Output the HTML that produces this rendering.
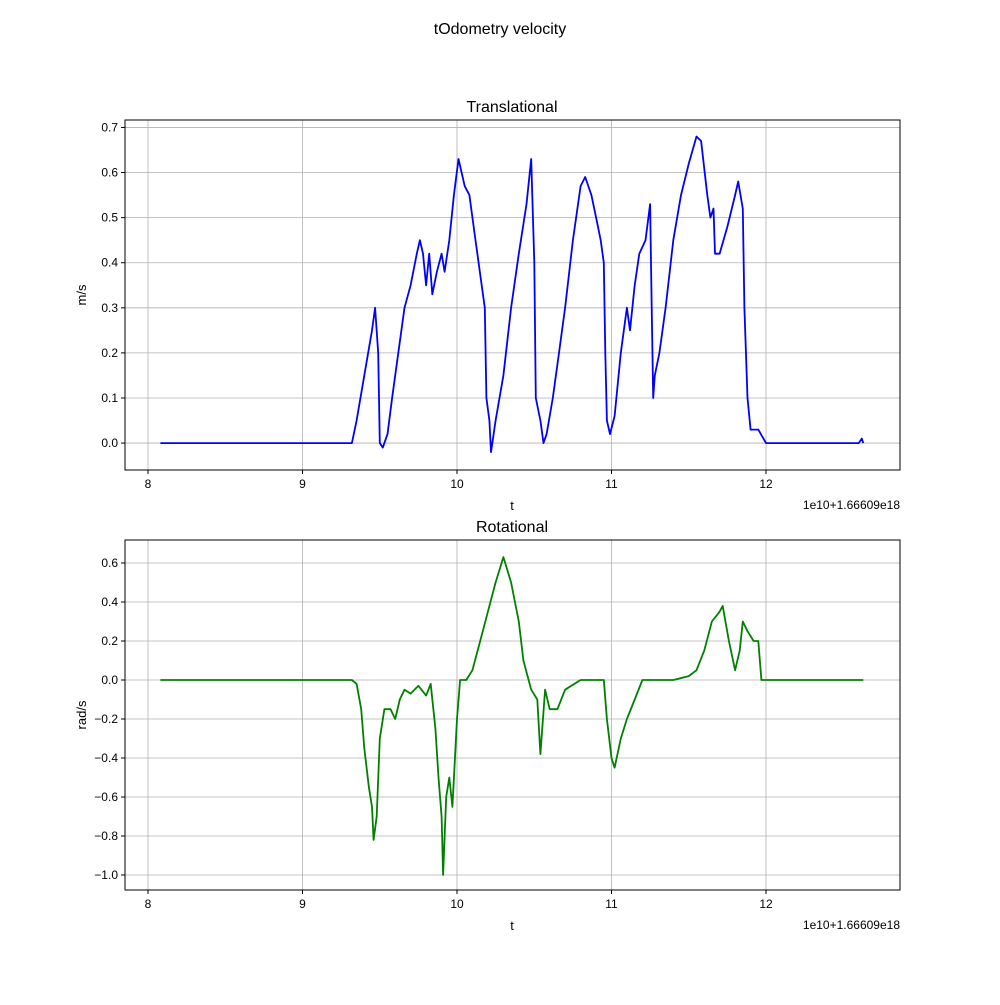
<!DOCTYPE html>
<html><head><meta charset="utf-8"><style>
body{margin:0;background:#fff}
svg text{font-family:"Liberation Sans","DejaVu Sans",sans-serif;fill:#000}
</style></head><body>
<svg id="chart" width="1000" height="1000">
<rect width="1000" height="1000" fill="#fff"/>
<text x="500" y="34" font-size="16" text-anchor="middle">tOdometry velocity</text>
<g id="top"></g><g id="bot"></g>
</svg>
<script>
const transT=[8.08,9.32,9.35,9.4,9.45,9.47,9.49,9.5,9.52,9.55,9.58,9.62,9.66,9.7,9.74,9.76,9.78,9.8,9.82,9.84,9.87,9.9,9.92,9.95,9.98,10.01,10.03,10.05,10.08,10.12,10.16,10.18,10.19,10.21,10.22,10.25,10.3,10.35,10.4,10.45,10.48,10.5,10.51,10.54,10.56,10.58,10.62,10.66,10.7,10.75,10.8,10.83,10.87,10.9,10.93,10.95,10.96,10.97,10.99,11.02,11.06,11.1,11.12,11.15,11.18,11.22,11.25,11.26,11.27,11.28,11.31,11.35,11.4,11.45,11.5,11.55,11.58,11.62,11.64,11.66,11.67,11.7,11.75,11.8,11.82,11.85,11.86,11.88,11.9,11.95,12.0,12.6,12.62,12.63];
const transV=[0,0,0.05,0.15,0.25,0.3,0.2,0.0,-0.01,0.02,0.1,0.2,0.3,0.35,0.42,0.45,0.42,0.35,0.42,0.33,0.38,0.42,0.38,0.45,0.55,0.63,0.6,0.57,0.55,0.45,0.35,0.3,0.1,0.05,-0.02,0.05,0.15,0.3,0.42,0.53,0.63,0.4,0.1,0.05,0.0,0.02,0.1,0.2,0.3,0.45,0.57,0.59,0.55,0.5,0.45,0.4,0.2,0.05,0.02,0.06,0.2,0.3,0.25,0.35,0.42,0.45,0.53,0.3,0.1,0.15,0.2,0.3,0.45,0.55,0.62,0.68,0.67,0.55,0.5,0.52,0.42,0.42,0.48,0.55,0.58,0.52,0.3,0.1,0.03,0.03,0.0,0.0,0.01,0];
const rotT=[8.08,9.32,9.35,9.38,9.4,9.43,9.45,9.46,9.48,9.5,9.53,9.57,9.6,9.63,9.66,9.7,9.75,9.8,9.83,9.86,9.88,9.9,9.91,9.93,9.95,9.97,10.0,10.02,10.06,10.1,10.15,10.2,10.25,10.3,10.35,10.4,10.43,10.48,10.52,10.54,10.57,10.6,10.65,10.7,10.8,10.95,10.97,11.0,11.02,11.06,11.1,11.15,11.2,11.3,11.4,11.5,11.55,11.6,11.65,11.7,11.72,11.76,11.8,11.83,11.85,11.88,11.92,11.95,11.97,12.63];
const rotV=[0,0,-0.02,-0.15,-0.35,-0.55,-0.65,-0.82,-0.7,-0.3,-0.15,-0.15,-0.2,-0.1,-0.05,-0.07,-0.03,-0.08,-0.02,-0.25,-0.5,-0.7,-1.0,-0.6,-0.5,-0.65,-0.2,0.0,0.0,0.05,0.2,0.35,0.5,0.63,0.5,0.3,0.1,-0.05,-0.1,-0.38,-0.05,-0.15,-0.15,-0.05,0.0,0.0,-0.2,-0.4,-0.45,-0.3,-0.2,-0.1,0.0,0.0,0.0,0.02,0.05,0.15,0.3,0.35,0.38,0.2,0.05,0.15,0.3,0.25,0.2,0.2,0.0,0];
const xTicks=[8,9,10,11,12];
const topYTicks=[0.0,0.1,0.2,0.3,0.4,0.5,0.6,0.7];
const botYTicks=[-1.0,-0.8,-0.6,-0.4,-0.2,0.0,0.2,0.4,0.6];
const NS="http://www.w3.org/2000/svg";
function mk(p,tag,a,txt){const e=document.createElementNS(NS,tag);for(const k in a)e.setAttribute(k,a[k]);if(txt!==undefined)e.textContent=txt;p.appendChild(e);return e;}
function panel(g,top,ymin,ymax,yTicks,fmt,T,V,color,title,ylabel,nm){
 const L=125,R=900,B=top+350;
 const xs=t=>148+(t-8)*154.5;
 const ys=v=>B-(v-ymin)/(ymax-ymin)*350;
 xTicks.forEach(t=>{const x=xs(t);
  const l=mk(g,'line',{x1:x,x2:x,y1:top,y2:B,stroke:'#b0b0b0','stroke-width':0.8});
  
  mk(g,'line',{x1:x,x2:x,y1:B,y2:B+4,stroke:'#000'});
  const tx=mk(g,'text',{x:x,y:B+18,'font-size':12,'text-anchor':'middle'},String(t));
  });
 yTicks.forEach(v=>{const y=ys(v);
  const l=mk(g,'line',{x1:L,x2:R,y1:y,y2:y,stroke:'#b0b0b0','stroke-width':0.8});
  
  mk(g,'line',{x1:L-4,x2:L,y1:y,y2:y,stroke:'#000'});
  const tx=mk(g,'text',{x:L-7,y:y+4,'font-size':12,'text-anchor':'end'},fmt(v));
  });
 const d=T.map((t,i)=>(i?'L':'M')+xs(t).toFixed(1)+' '+ys(V[i]).toFixed(1)).join(' ');
 const p=mk(g,'path',{d:d,fill:'none',stroke:color,'stroke-width':1.8,'stroke-linejoin':'round'});
 
 const fr=mk(g,'rect',{x:L,y:top,width:R-L,height:350,fill:'none',stroke:'#000','stroke-width':1});
 
 const ti=mk(g,'text',{x:512,y:top-8,'font-size':16,'text-anchor':'middle'},title);
 
 const xl=mk(g,'text',{x:512,y:B+40,'font-size':13,'text-anchor':'middle'},'t');
 
 const off=mk(g,'text',{x:900,y:B+39,'font-size':12,'text-anchor':'end'},'1e10+1.66609e18');
 
 const yl=mk(g,'text',{x:0,y:0,'font-size':13,'text-anchor':'middle',transform:`translate(86,${top+175}) rotate(-90)`},ylabel);
 
}
panel(document.getElementById('top'),120,-0.0597,0.7165,topYTicks,v=>v.toFixed(1),transT,transV,'#0000ff','Translational','m/s','translational');
panel(document.getElementById('bot'),540,-1.0769,0.7179,botYTicks,v=>v.toFixed(1).replace('-','\u2212'),rotT,rotV,'#008000','Rotational','rad/s','rotational');
</script>
</body></html>
